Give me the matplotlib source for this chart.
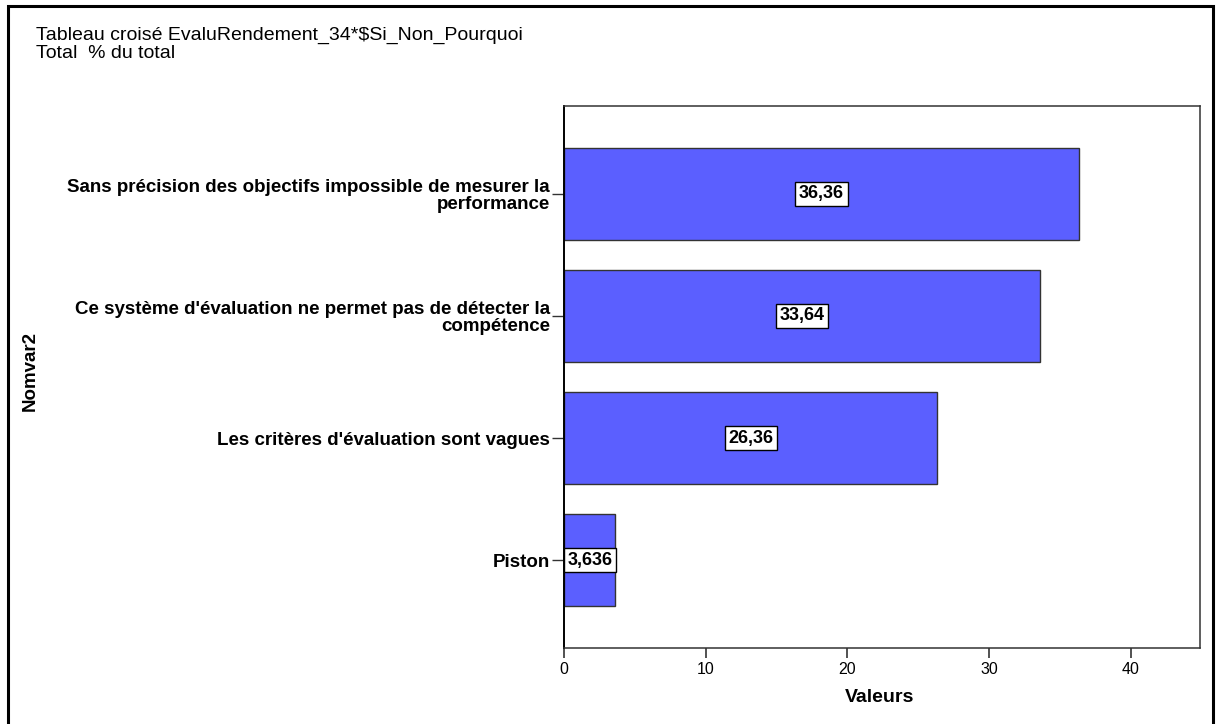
import matplotlib.pyplot as plt
from matplotlib.patches import Rectangle

categories = [
    "Sans précision des objectifs impossible de mesurer la\nperformance",
    "Ce système d'évaluation ne permet pas de détecter la\ncompétence",
    "Les critères d'évaluation sont vagues",
    "Piston",
]
values = [36.36, 33.64, 26.36, 3.636]
value_labels = ["36,36", "33,64", "26,36", "3,636"]
x_ticks = [0, 10, 20, 30, 40]

plt.rcParams['font.family'] = ['Liberation Sans', 'DejaVu Sans']
narrow = ['Liberation Sans Narrow', 'Liberation Sans']

fig = plt.figure(figsize=(12.21, 7.24), dpi=100)
ax = fig.add_axes([0.4619, 0.105, 0.5209, 0.7486])

pos = list(range(len(categories)))
ax.barh(pos, values, height=0.75, color='#5B5FFF', edgecolor='#333333', linewidth=1.0)

for p, v, lab in zip(pos, values, value_labels):
    ax.text(v / 2, p, lab, ha='center', va='center', fontsize=13, fontweight='bold',
            family=narrow,
            bbox=dict(boxstyle='square,pad=0.2', facecolor='white', edgecolor='black', linewidth=1.0))

ax.set_ylim(3.72, -0.72)
ax.set_xlim(0, 44.9)
ax.set_yticks(pos)
ax.set_yticklabels(categories, fontsize=13.5, fontweight='bold', linespacing=1.0)
ax.set_xticks(x_ticks)
ax.set_xticklabels([str(t) for t in x_ticks], fontsize=11.5, family=narrow)
ax.tick_params(axis='y', length=9, width=1.0, pad=1, color='#333333')
ax.tick_params(axis='x', length=7, width=1.2, pad=3, color='#333333')
for s in ax.spines.values():
    s.set_color('#333333')
    s.set_linewidth(1.1)
ax.spines['left'].set_linewidth(1.4)
ax.spines['left'].set_color('black')

fig.text(880 / 1221, 1 - 698 / 724, "Valeurs", ha='center', va='center',
         fontsize=14, fontweight='bold', family=narrow)
fig.text(30 / 1221, 1 - 371 / 724, "Nomvar2", ha='center', va='center',
         rotation=90, fontsize=13.5, fontweight='bold')

# two-line chart heading, tightly stacked
fig.text(36 / 1221, 1 - 40 / 724, "Tableau croisé EvaluRendement_34*$Si_Non_Pourquoi",
         ha='left', va='baseline', fontsize=14)
fig.text(36 / 1221, 1 - 58.5 / 724, "Total  % du total",
         ha='left', va='baseline', fontsize=14)

# outer frame, open at the bottom
fig.patches.append(Rectangle((8 / 1221, -0.05), (1213 - 8) / 1221, 1 - 6 / 724 + 0.05,
                             transform=fig.transFigure, fill=False, edgecolor='black',
                             linewidth=2.2, clip_on=False))

plt.savefig('out.png', dpi=100)
